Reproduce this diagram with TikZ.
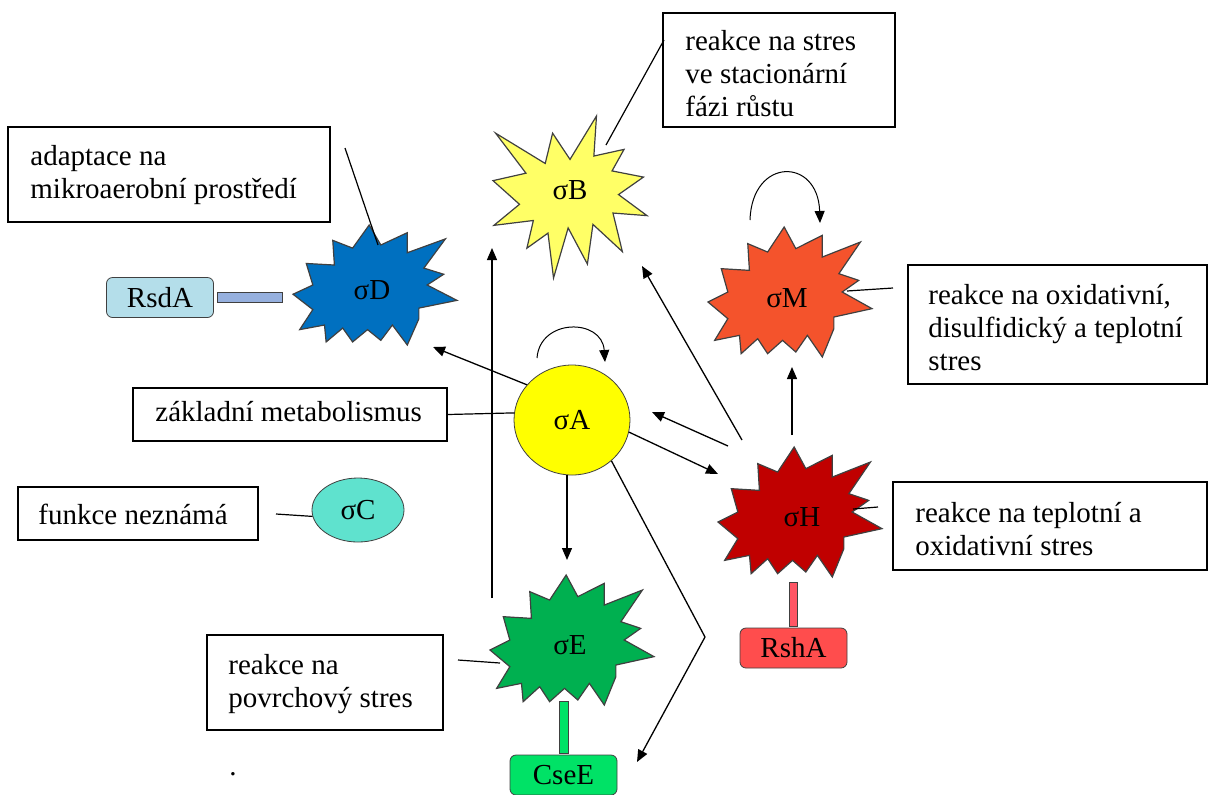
\documentclass[tikz,border=0pt]{standalone}
\usepackage{fontspec}
\setmainfont{Liberation Serif}
\usepackage{xcolor}
\usetikzlibrary{arrows.meta,fit,shapes.geometric}

\definecolor{sigA}{RGB}{255,255,0}
\definecolor{sigB}{RGB}{255,255,102}
\definecolor{sigC}{RGB}{95,226,206}
\definecolor{sigD}{RGB}{0,112,192}
\definecolor{sigE}{RGB}{0,176,80}
\definecolor{sigH}{RGB}{192,0,0}
\definecolor{sigM}{RGB}{244,83,44}
\definecolor{rsd}{RGB}{180,222,234}
\definecolor{rsdbar}{RGB}{150,176,222}
\definecolor{rsh}{RGB}{255,77,77}
\definecolor{rshbar}{RGB}{255,85,100}
\definecolor{cse}{RGB}{0,226,102}

% tvary hvezd
\tikzset{
  burstB/.pic = {\filldraw[pic actions] (0,-0.464) -- (0.344,-1) -- (0.31,-0.506) -- (0.702,-0.588)
    -- (0.546,-0.322) -- (0.954,-0.246) -- (0.63,-0.03) -- (1,0.23) -- (0.558,0.198) -- (0.68,0.674)
    -- (0.298,0.338) -- (0.226,0.828) -- (-0.024,0.382) -- (-0.214,1) -- (-0.286,0.446) -- (-0.56,0.632)
    -- (-0.476,0.29) -- (-0.988,0.35) -- (-0.656,0.09) -- (-1,-0.202) -- (-0.572,-0.294) -- (-0.966,-0.788)
    -- (-0.322,-0.414) -- (-0.226,-0.788) -- cycle;},
  burst/.pic = {\filldraw[pic actions] (-0.071,-1) -- (0.071,-0.667) -- (0.394,-0.872) -- (0.394,-0.538)
    -- (0.859,-0.769) -- (0.596,-0.282) -- (0.838,-0.179) -- (0.636,0) -- (1,0.256) -- (0.535,0.385)
    -- (0.535,0.564) -- (0.394,1) -- (0.212,0.667) -- (0.071,0.923) -- (-0.091,0.744) -- (-0.273,0.949)
    -- (-0.394,0.718) -- (-0.596,0.949) -- (-0.616,0.667) -- (-0.919,0.744) -- (-0.758,0.41) -- (-1,0.154)
    -- (-0.758,0) -- (-0.838,-0.359) -- (-0.495,-0.333) -- (-0.515,-0.744) -- (-0.273,-0.615) -- cycle;}
}

\begin{document}
\begin{tikzpicture}
    [x=0.5pt, y=-0.5pt,
    font=\fontsize{14.5}{16.5}\selectfont,
    box/.style = {draw, line width=0.65pt, inner sep=0pt},
    txt/.style = {anchor=north west, inner sep=0pt, align=left},
    star/.style = {draw=black!75, line width=0.6pt},
    tag/.style = {draw=black!75, rounded corners=3pt, minimum width=53.5pt,
                minimum height=20pt, inner sep=0pt},
    bar/.style = {draw=black!75, line width=0.5pt},
    arr/.style = {-{Triangle[length=6pt,width=5pt]}, line width=0.65pt},
    smycka/.style = {-{Triangle[length=6pt,width=5pt]}, line width=0.5pt}]
    \useasboundingbox (0,0) rectangle (1210,794);

    % hvezdy
    \pic[star, fill=sigB, xscale=77, yscale=81] at (570,197) {burstB};
    \pic[star, fill=sigD, xscale=82, yscale=60] at (375,285) {burst};
    \pic[star, fill=sigM, xscale=82, yscale=65] at (790,292) {burst};
    \pic[star, fill=sigH, xscale=82, yscale=65] at (800,512) {burst};
    \pic[star, fill=sigE, xscale=82, yscale=65] at (572,640) {burst};
    \node (B) at (570,190) {σB};
    \node (D) at (372,290) {σD};
    \node (M) at (787,298) {σM};
    \node (H) at (802,517) {σH};
    \node (E) at (570,645) {σE};
    \node[draw=black!75, ellipse, fill=sigA, minimum width=58pt, minimum height=55pt] (A) at (572,420) {σA};
    \node[draw=black!75, ellipse, fill=sigC, minimum width=46pt, minimum height=32pt] (C) at (358,510) {σC};

    % inhibitory
    \node[tag, fill=rsd] (rsd) at (160,297.5) {RsdA};
    \node[tag, fill=rsh] (rsh) at (793.5,648) {RshA};
    \node[tag, fill=cse] (cse) at (563.5,775) {CseE};
    \filldraw[bar, fill=rsdbar] (rsd.east) ++(4,-5) rectangle ++(65,10);
    \filldraw[bar, fill=rshbar] (rsh.north) ++(-4,-1) rectangle ++(8,-44);
    \filldraw[bar, fill=cse] (cse.north) ++(-4.5,-1) rectangle ++(9,-52);

    % popisky
    \node[box, fit={(663,13) (895,127)}] (bxB) {};
    \node[box, fit={(8,127) (330,222)}] (bxD) {};
    \node[box, fit={(908,265) (1207,384)}] (bxM) {};
    \node[box, fit={(133,388) (447,441)}] (bxA) {};
    \node[box, fit={(18,487) (258,540)}] (bxC) {};
    \node[box, fit={(893,482) (1207,570)}] (bxH) {};
    \node[box, fit={(207,635) (443,730)}] (bxE) {};
    \begin{scope}
        \clip (663,13) rectangle (895,119);
        \node[txt] (tB) at (685,29.5) {reakce na stres\\ve stacionární\\fázi růstu};
    \end{scope}
    \node[txt] (tD) at (30,144.5) {adaptace na\\mikroaerobní prostředí};
    \node[txt] (tM) at (928,283.5) {reakce na oxidativní,\\disulfidický a teplotní\\stres};
    \node[txt] (tA) at (155,400.5) {základní metabolismus};
    \node[txt] (tC) at (38,503.5) {funkce neznámá};
    \node[txt] (tH) at (915,501.5) {reakce na teplotní a\\oxidativní stres};
    \node[txt] (tE) at (228,653.5) {reakce na\\povrchový stres};
    \node (tecka) at (233,774) {.};

    % body sipek
    \coordinate (Dt) at (433,347);
    \coordinate (Ht) at (718,474);
    \coordinate (Hs1) at (728,446);
    \coordinate (At) at (652,412);
    \coordinate (Hs2) at (742,440);
    \coordinate (Bt) at (642,266);
    \coordinate (Hs3) at (792,435);
    \coordinate (Mt) at (792,367);
    \coordinate (Et) at (567,560);
    \coordinate (Es) at (492,598);
    \coordinate (Bt2) at (492,248);
    \coordinate (zlom) at (705,637);
    \coordinate (Ct) at (637,762);

    % sipky
    \draw[arr] (A.142) -- (Dt);
    \draw[arr] (A.-12) -- (Ht);
    \draw[arr] (Hs1) -- (At);
    \draw[arr] (Hs2) -- (Bt);
    \draw[arr] (Hs3) -- (Mt);
    \draw[arr] (A.south -| Et) -- (Et);
    \draw[arr] (Es) -- (Bt2);
    \draw[arr] (A.-46) -- (zlom) -- (Ct);
    \draw[smycka] (537,358) .. controls (540,318) and (602,318) .. (605,362);
    \draw[smycka] (750,220) .. controls (752,157) and (818,157) .. (820,223);

    % cary k popiskum
    \draw[line width=0.6pt] (664,40) -- (606,145);
    \draw[line width=0.6pt] (345,148) -- (378,245);
    \draw[line width=0.6pt] (893,288) -- (847,291);
    \draw[line width=0.6pt] (bxA.east) -- (A.173);
    \draw[line width=0.6pt] (276,514) -- (C.188);
    \draw[line width=0.6pt] (878,507) -- (853,509);
    \draw[line width=0.6pt] (458,660) -- (500,663);
\end{tikzpicture}
\end{document}
